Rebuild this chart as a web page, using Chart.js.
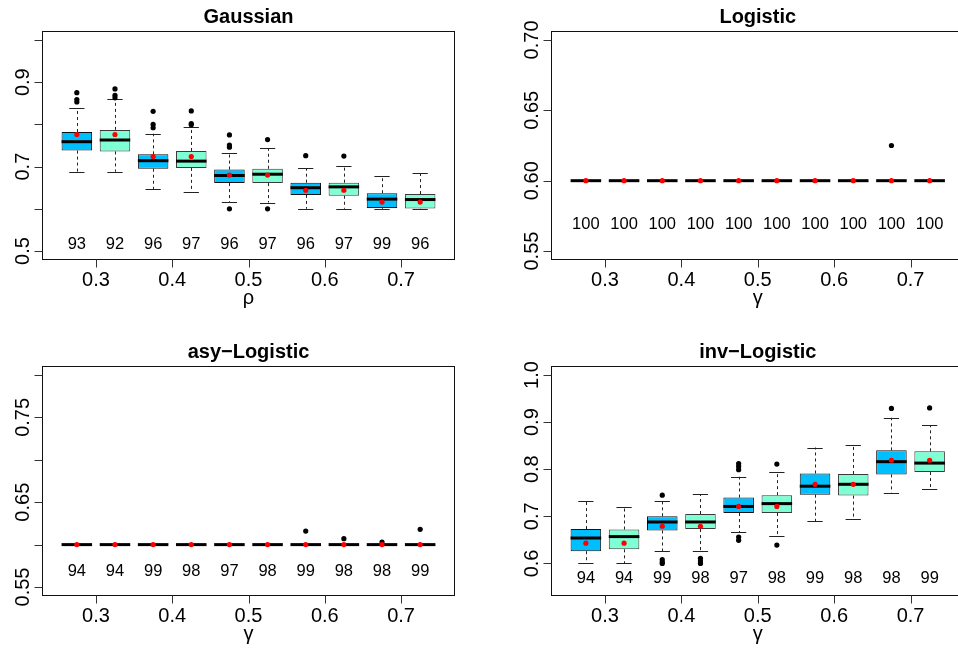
<!DOCTYPE html>
<html>
<head>
<meta charset="utf-8">
<script src="https://cdn.jsdelivr.net/npm/chart.js@4.4.1/dist/chart.umd.min.js"></script>
<style>
  html, body { margin: 0; padding: 0; background: #fff; width: 958px; height: 651px; overflow: hidden; position: relative; }
  canvas { position: absolute; }
</style>
</head>
<body>
<canvas id="gauss" width="479" height="320" style="left:0;top:0"></canvas>
<canvas id="logis" width="500" height="320" style="left:479px;top:0"></canvas>
<canvas id="asylog" width="479" height="331" style="left:0;top:320px"></canvas>
<canvas id="invlog" width="500" height="331" style="left:479px;top:320px"></canvas>
<script>
// Box positions on the parameter axis (pairs of methods per parameter value)
const positions = [0.275, 0.325, 0.375, 0.425, 0.475, 0.525, 0.575, 0.625, 0.675, 0.725];
const xTicks = [0.3, 0.4, 0.5, 0.6, 0.7];

// Gaussian copula, parameter rho
const gaussLow    = [0.688, 0.688, 0.647, 0.641, 0.617, 0.615, 0.600, 0.600, 0.600, 0.600];
const gaussQ1     = [0.738, 0.736, 0.695, 0.697, 0.661, 0.661, 0.633, 0.631, 0.602, 0.601];
const gaussMedian = [0.759, 0.763, 0.714, 0.713, 0.679, 0.682, 0.650, 0.652, 0.623, 0.622];
const gaussQ3     = [0.782, 0.787, 0.729, 0.737, 0.693, 0.695, 0.662, 0.662, 0.637, 0.635];
const gaussHigh   = [0.839, 0.861, 0.778, 0.794, 0.733, 0.744, 0.697, 0.702, 0.677, 0.684];
const gaussMean   = [0.776, 0.776, 0.724, 0.724, 0.680, 0.680, 0.644, 0.644, 0.616, 0.616];
const gaussOutliers = [[0.875, 0.859, 0.853], [0.884, 0.869, 0.863], [0.831, 0.800, 0.792], [0.832, 0.802, 0.799],
                       [0.775, 0.751, 0.746, 0.600], [0.764, 0.600], [0.726], [0.725], [], []];
const gaussCounts = [93, 92, 96, 97, 96, 97, 96, 97, 99, 96];

// Logistic model, parameter gamma
const logisLow    = [0.6, 0.6, 0.6, 0.6, 0.6, 0.6, 0.6, 0.6, 0.6, 0.6];
const logisQ1     = [0.6, 0.6, 0.6, 0.6, 0.6, 0.6, 0.6, 0.6, 0.6, 0.6];
const logisMedian = [0.6, 0.6, 0.6, 0.6, 0.6, 0.6, 0.6, 0.6, 0.6, 0.6];
const logisQ3     = [0.6, 0.6, 0.6, 0.6, 0.6, 0.6, 0.6, 0.6, 0.6, 0.6];
const logisHigh   = [0.6, 0.6, 0.6, 0.6, 0.6, 0.6, 0.6, 0.6, 0.6, 0.6];
const logisMean   = [0.6, 0.6, 0.6, 0.6, 0.6, 0.6, 0.6, 0.6, 0.6, 0.6];
const logisOutliers = [[], [], [], [], [], [], [], [], [0.625], []];
const logisCounts = [100, 100, 100, 100, 100, 100, 100, 100, 100, 100];

// Asymmetric logistic model, parameter gamma
const asyLow    = [0.6, 0.6, 0.6, 0.6, 0.6, 0.6, 0.6, 0.6, 0.6, 0.6];
const asyQ1     = [0.6, 0.6, 0.6, 0.6, 0.6, 0.6, 0.6, 0.6, 0.6, 0.6];
const asyMedian = [0.6, 0.6, 0.6, 0.6, 0.6, 0.6, 0.6, 0.6, 0.6, 0.6];
const asyQ3     = [0.6, 0.6, 0.6, 0.6, 0.6, 0.6, 0.6, 0.6, 0.6, 0.6];
const asyHigh   = [0.6, 0.6, 0.6, 0.6, 0.6, 0.6, 0.6, 0.6, 0.6, 0.6];
const asyMean   = [0.6, 0.6, 0.6, 0.6, 0.6, 0.6, 0.6, 0.6, 0.6, 0.6];
const asyOutliers = [[], [], [], [], [], [], [0.616], [0.607], [0.603], [0.618]];
const asyCounts = [94, 94, 99, 98, 97, 98, 99, 98, 98, 99];

// Inverted logistic model, parameter gamma
const invLow    = [0.600, 0.600, 0.626, 0.626, 0.666, 0.658, 0.690, 0.694, 0.750, 0.758];
const invQ1     = [0.626, 0.630, 0.670, 0.673, 0.707, 0.707, 0.746, 0.744, 0.789, 0.794];
const invMedian = [0.654, 0.657, 0.688, 0.688, 0.721, 0.727, 0.764, 0.768, 0.816, 0.813];
const invQ3     = [0.673, 0.672, 0.700, 0.705, 0.740, 0.745, 0.791, 0.790, 0.840, 0.838];
const invHigh   = [0.732, 0.719, 0.733, 0.747, 0.784, 0.795, 0.846, 0.852, 0.909, 0.894];
const invMean   = [0.643, 0.643, 0.679, 0.679, 0.721, 0.721, 0.768, 0.768, 0.819, 0.819];
const invOutliers = [[], [], [0.745, 0.608, 0.603, 0.600], [0.611, 0.605, 0.600],
                     [0.812, 0.806, 0.799, 0.656, 0.649], [0.811, 0.639], [], [], [0.929], [0.930]];
const invCounts = [94, 94, 99, 98, 97, 98, 99, 98, 98, 99];

// y-axis ticks and labels per panel
const gaussYTicks = [0.5, 0.6, 0.7, 0.8, 0.9, 1.0];
const gaussYLabels = ['0.5', '0.6', '0.7', '0.8', '0.9', '1.0'];
const logisYTicks = [0.55, 0.60, 0.65, 0.70];
const logisYLabels = ['0.55', '0.60', '0.65', '0.70'];
const asyYTicks = [0.55, 0.60, 0.65, 0.70, 0.75, 0.80];
const asyYLabels = ['0.55', '0.60', '0.65', '0.70', '0.75', '0.80'];
const invYTicks = [0.6, 0.7, 0.8, 0.9, 1.0];
const invYLabels = ['0.6', '0.7', '0.8', '0.9', '1.0'];
const xTickLabels = ['0.3', '0.4', '0.5', '0.6', '0.7'];

const FONT = '"Liberation Sans", Arial, Helvetica, sans-serif';
const BLUE = '#00BFFF';
const GREEN = '#7FFFD4';

function boxElement(chart, i) {
  const meta = chart.getDatasetMeta(i % 2);
  return meta.data[Math.floor(i / 2)];
}

function rBoxPlugin(p) {
  return {
    id: 'rbox_' + p.id,
    // whiskers and staples go under the boxes
    beforeDatasetsDraw(chart) {
      const ctx = chart.ctx, ys = chart.scales.y;
      ctx.save();
      positions.forEach((_, i) => {
        const el = boxElement(chart, i);
        const { x, width } = el.getProps(['x', 'width'], true);
        const half = width / 4;
        const segs = [[p.q3[i], p.high[i]], [p.q1[i], p.low[i]]];
        segs.forEach(([from, to]) => {
          if (from === to) return;
          const y0 = ys.getPixelForValue(from), y1 = ys.getPixelForValue(to);
          ctx.setLineDash([3, 3]);
          ctx.strokeStyle = '#222';
          ctx.lineWidth = 1;
          ctx.beginPath();
          ctx.moveTo(Math.round(x) + 0.5, y0);
          ctx.lineTo(Math.round(x) + 0.5, y1);
          ctx.stroke();
          ctx.setLineDash([]);
          ctx.beginPath();
          ctx.moveTo(x - half, Math.round(y1) + 0.5);
          ctx.lineTo(x + half, Math.round(y1) + 0.5);
          ctx.stroke();
        });
      });
      ctx.restore();
    },
    // thick median line right after each set of boxes
    afterDatasetDraw(chart, args) {
      if (args.index > 1) return;
      const ctx = chart.ctx, ys = chart.scales.y;
      ctx.save();
      ctx.strokeStyle = '#000';
      ctx.lineWidth = 3;
      ctx.lineCap = 'butt';
      positions.forEach((_, i) => {
        if (i % 2 !== args.index) return;
        const { x, width } = boxElement(chart, i).getProps(['x', 'width'], true);
        const y = ys.getPixelForValue(p.median[i]);
        ctx.beginPath();
        ctx.moveTo(x - width / 2, y);
        ctx.lineTo(x + width / 2, y);
        ctx.stroke();
      });
      ctx.restore();
    },
    afterDraw(chart) {
      const ctx = chart.ctx, xs = chart.scales.x, ys = chart.scales.y;
      const a = chart.chartArea;
      ctx.save();
      // frame
      ctx.strokeStyle = '#111';
      ctx.lineWidth = 1;
      ctx.strokeRect(a.left, a.top, a.right - a.left, a.bottom - a.top);
      // x ticks
      ctx.strokeStyle = '#333';
      ctx.beginPath();
      xTicks.forEach(v => {
        const px = Math.round(xs.getPixelForValue(v)) + 0.5;
        ctx.moveTo(px, a.bottom);
        ctx.lineTo(px, a.bottom + 8);
      });
      p.yTicks.forEach(v => {
        const py = Math.round(ys.getPixelForValue(v)) + 0.5;
        ctx.moveTo(a.left, py);
        ctx.lineTo(a.left - 8, py);
      });
      ctx.stroke();
      ctx.fillStyle = '#000';
      // x tick labels
      ctx.font = '20px ' + FONT;
      ctx.textAlign = 'center';
      ctx.textBaseline = 'alphabetic';
      xTicks.forEach((v, k) => {
        ctx.fillText(xTickLabels[k], xs.getPixelForValue(v), a.bottom + 26.5);
      });
      // y tick labels, rotated, skipping those that would collide
      let lastEdge = Infinity;
      const gap = 16;
      p.yTicks.forEach((v, k) => {
        const py = ys.getPixelForValue(v);
        const w = ctx.measureText(p.yLabels[k]).width;
        if (py + w / 2 + gap > lastEdge) return;
        lastEdge = py - w / 2;
        ctx.save();
        ctx.translate(a.left - 14, py);
        ctx.rotate(-Math.PI / 2);
        ctx.fillText(p.yLabels[k], 0, 0);
        ctx.restore();
      });
      // axis name
      ctx.fillText(p.xName, (a.left + a.right) / 2, a.bottom + 44.5);
      // title
      ctx.font = 'bold 20px ' + FONT;
      ctx.fillText(p.title, (a.left + a.right) / 2, a.top - 8.5);
      // counts under each box
      ctx.font = '16.5px ' + FONT;
      positions.forEach((v, i) => {
        const py = ys.getPixelForValue(p.countAt);
        ctx.fillText(String(p.counts[i]), xs.getPixelForValue(v), py + 5.9);
      });
      ctx.restore();
    }
  };
}

function makePanel(canvasId, p) {
  const blue = [], green = [];
  positions.forEach((x, i) => {
    (i % 2 === 0 ? blue : green).push({ x: x, y: [p.q1[i], p.q3[i]] });
  });
  const outliers = [];
  p.outliers.forEach((vals, i) => vals.forEach(v => outliers.push({ x: positions[i], y: v })));
  const means = positions.map((x, i) => ({ x: x, y: p.mean[i] }));
  const barStyle = {
    type: 'bar', borderWidth: 1, borderSkipped: false, grouped: false,
    barPercentage: 0.8, categoryPercentage: 1.0, order: 3
  };
  return new Chart(document.getElementById(canvasId), {
    type: 'scatter',
    data: {
      datasets: [
        Object.assign({ label: 'method A', data: blue, backgroundColor: BLUE, borderColor: '#111' }, barStyle),
        Object.assign({ label: 'method B', data: green, backgroundColor: GREEN, borderColor: '#3a3a3a' }, barStyle),
        { type: 'scatter', label: 'outliers', data: outliers, pointRadius: 2.6, pointBackgroundColor: '#000',
          pointBorderWidth: 0, order: 2 },
        { type: 'scatter', label: 'mean', data: means, pointRadius: 2.6, pointBackgroundColor: '#FF0000',
          pointBorderWidth: 0, order: 1 }
      ]
    },
    options: {
      responsive: false,
      devicePixelRatio: 1,
      animation: false,
      events: [],
      layout: { padding: p.padding },
      scales: {
        x: { type: 'linear', min: 0.23, max: 0.77, display: false, offset: false },
        y: { type: 'linear', min: p.yMin, max: p.yMax, display: false, beginAtZero: false }
      },
      plugins: { legend: { display: false }, tooltip: { enabled: false }, title: { display: false } }
    },
    plugins: [rBoxPlugin(p)]
  });
}

makePanel('gauss', {
  id: 'gauss', title: 'Gaussian', xName: '\u03C1',
  low: gaussLow, q1: gaussQ1, median: gaussMedian, q3: gaussQ3, high: gaussHigh,
  mean: gaussMean, outliers: gaussOutliers, counts: gaussCounts, countAt: 0.52,
  yTicks: gaussYTicks, yLabels: gaussYLabels, yMin: 0.48, yMax: 1.02,
  padding: { left: 42.5, right: 24.5, top: 31.5, bottom: 60.5 }
});
makePanel('logis', {
  id: 'logis', title: 'Logistic', xName: '\u03B3',
  low: logisLow, q1: logisQ1, median: logisMedian, q3: logisQ3, high: logisHigh,
  mean: logisMean, outliers: logisOutliers, counts: logisCounts, countAt: 0.57,
  yTicks: logisYTicks, yLabels: logisYLabels, yMin: 0.544, yMax: 0.706,
  padding: { left: 72.5, right: 15, top: 31.5, bottom: 60.5 }
});
makePanel('asylog', {
  id: 'asylog', title: 'asy\u2212Logistic', xName: '\u03B3',
  low: asyLow, q1: asyQ1, median: asyMedian, q3: asyQ3, high: asyHigh,
  mean: asyMean, outliers: asyOutliers, counts: asyCounts, countAt: 0.57,
  yTicks: asyYTicks, yLabels: asyYLabels, yMin: 0.54, yMax: 0.81,
  padding: { left: 42.5, right: 24.5, top: 46.5, bottom: 55.5 }
});
makePanel('invlog', {
  id: 'invlog', title: 'inv\u2212Logistic', xName: '\u03B3',
  low: invLow, q1: invQ1, median: invMedian, q3: invQ3, high: invHigh,
  mean: invMean, outliers: invOutliers, counts: invCounts, countAt: 0.57,
  yTicks: invYTicks, yLabels: invYLabels, yMin: 0.532, yMax: 1.018,
  padding: { left: 72.5, right: 15, top: 46.5, bottom: 55.5 }
});
</script>
</body>
</html>
